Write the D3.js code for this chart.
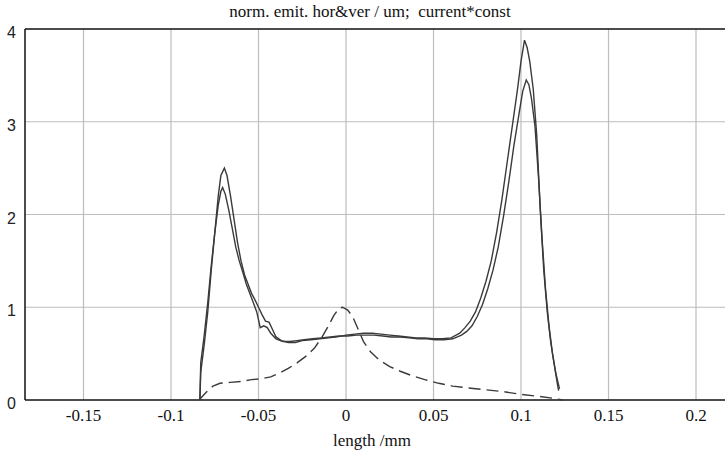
<!DOCTYPE html>
<html>
<head>
<meta charset="utf-8">
<script src="https://cdn.jsdelivr.net/npm/d3@7"></script>
</head>
<body style="margin:0">
<div id="chart"></div>
<script>
// ---------- data ----------
const xTicks = [-0.15, -0.1, -0.05, 0, 0.05, 0.1, 0.15, 0.2]
const yTicks = [0, 1, 2, 3, 4]

// horizontal emittance
const horX = [-0.0835, -0.083, -0.081, -0.079, -0.077, -0.075, -0.073, -0.0715, -0.0695, -0.068, -0.066, -0.064, -0.062, -0.060, -0.058, -0.056, -0.054, -0.052, -0.050, -0.048, -0.046, -0.044, -0.042, -0.040, -0.037, -0.033, -0.029, -0.025, -0.020, -0.015, -0.010, -0.005, 0, 0.005, 0.010, 0.015, 0.020, 0.025, 0.030, 0.035, 0.040, 0.045, 0.050, 0.055, 0.060, 0.065, 0.068, 0.071, 0.074, 0.077, 0.080, 0.083, 0.086, 0.089, 0.092, 0.095, 0.098, 0.100, 0.102, 0.1035, 0.105, 0.107, 0.109, 0.111, 0.113, 0.115, 0.117, 0.119, 0.121, 0.1215]
const horY = [0, 0.3, 0.6, 0.95, 1.4, 1.8, 2.2, 2.42, 2.5, 2.42, 2.2, 1.95, 1.7, 1.5, 1.35, 1.25, 1.15, 1.08, 1.0, 0.92, 0.85, 0.84, 0.76, 0.68, 0.64, 0.62, 0.62, 0.64, 0.65, 0.66, 0.67, 0.68, 0.70, 0.71, 0.72, 0.72, 0.71, 0.70, 0.69, 0.68, 0.67, 0.67, 0.66, 0.66, 0.67, 0.72, 0.78, 0.85, 0.95, 1.10, 1.28, 1.50, 1.80, 2.15, 2.55, 2.95, 3.35, 3.65, 3.88, 3.80, 3.65, 3.35, 2.85, 2.05, 1.40, 0.95, 0.62, 0.38, 0.15, 0.1]

// vertical emittance
const verX = [-0.0835, -0.083, -0.081, -0.079, -0.077, -0.075, -0.073, -0.0715, -0.0705, -0.069, -0.067, -0.065, -0.063, -0.061, -0.059, -0.057, -0.055, -0.053, -0.051, -0.049, -0.047, -0.045, -0.043, -0.040, -0.036, -0.032, -0.028, -0.024, -0.019, -0.014, -0.009, -0.004, 0.001, 0.006, 0.011, 0.016, 0.021, 0.026, 0.031, 0.036, 0.041, 0.046, 0.051, 0.056, 0.061, 0.066, 0.069, 0.072, 0.075, 0.078, 0.081, 0.084, 0.087, 0.090, 0.093, 0.096, 0.099, 0.101, 0.103, 0.1045, 0.106, 0.108, 0.110, 0.112, 0.114, 0.116, 0.118, 0.120, 0.122]
const verY = [0, 0.4, 0.7, 1.05, 1.45, 1.8, 2.1, 2.25, 2.29, 2.22, 2.05, 1.85, 1.65, 1.5, 1.38, 1.25, 1.15, 1.05, 0.95, 0.78, 0.80, 0.78, 0.72, 0.66, 0.63, 0.63, 0.64, 0.65, 0.66, 0.67, 0.68, 0.69, 0.69, 0.70, 0.70, 0.70, 0.69, 0.68, 0.68, 0.67, 0.66, 0.66, 0.65, 0.65, 0.66, 0.70, 0.74, 0.80, 0.90, 1.03, 1.20, 1.40, 1.65, 1.98, 2.35, 2.75, 3.10, 3.33, 3.45, 3.40, 3.25, 2.95, 2.40, 1.75, 1.20, 0.80, 0.50, 0.28, 0.12]

// current * const (dashed)
const curX = [-0.084, -0.080, -0.076, -0.072, -0.066, -0.060, -0.054, -0.048, -0.043, -0.038, -0.033, -0.028, -0.023, -0.018, -0.014, -0.010, -0.007, -0.004, -0.002, 0.001, 0.004, 0.007, 0.010, 0.014, 0.019, 0.025, 0.031, 0.038, 0.045, 0.053, 0.061, 0.070, 0.080, 0.090, 0.100, 0.110, 0.118, 0.124]
const curY = [0, 0.08, 0.15, 0.18, 0.19, 0.20, 0.22, 0.23, 0.25, 0.29, 0.34, 0.40, 0.47, 0.56, 0.67, 0.80, 0.91, 0.99, 1.00, 0.97, 0.89, 0.76, 0.63, 0.52, 0.43, 0.36, 0.31, 0.26, 0.22, 0.18, 0.15, 0.13, 0.11, 0.09, 0.06, 0.04, 0.02, 0]

// ---------- svg setup ----------
const svgWidth = 725, svgHeight = 460
const margin = {left: 25, right: 0, top: 29, bottom: 60}
const width = svgWidth - margin.left - margin.right
const height = svgHeight - margin.top - margin.bottom

const svg = d3.select('#chart')
    .append('svg')
    .attr('width', svgWidth)
    .attr('height', svgHeight)

const g = svg.append('g')
    .attr('transform', `translate(${margin.left},${margin.top})`)

// ---------- scales ----------
const x = d3.scaleLinear().domain([-0.18343, 0.21657]).range([0, width])
const y = d3.scaleLinear().domain([0, 4]).range([height, 0])

// ---------- grid ----------
g.append('g').selectAll('line')
    .data(xTicks)
    .join('line')
    .attr('x1', d => x(d)).attr('x2', d => x(d))
    .attr('y1', 0).attr('y2', height)
    .attr('stroke', '#bdbdbd').attr('stroke-width', 1.2)

g.append('g').selectAll('line')
    .data(yTicks.filter(d => d > 0 && d < 4))
    .join('line')
    .attr('x1', 0).attr('x2', width)
    .attr('y1', d => y(d)).attr('y2', d => y(d))
    .attr('stroke', '#bdbdbd').attr('stroke-width', 1.2)

// ---------- axes (labels drawn as plain text from the scales) ----------
g.append('g').selectAll('text')
    .data(xTicks)
    .join('text')
    .attr('x', d => x(d))
    .attr('y', height + 21)
    .attr('text-anchor', 'middle')
    .style('font-family', d => '"Liberation Serif"')
    .style('font-size', '17px')
    .style('fill', '#111')
    .text(d => String(d))

g.append('g').selectAll('text')
    .data(yTicks)
    .join('text')
    .attr('x', -9)
    .attr('y', d => y(d) + 9)
    .attr('text-anchor', 'end')
    .style('font-family', d => '"Liberation Sans"')
    .style('font-size', '16px')
    .style('fill', '#222')
    .text(d => String(d))

// frame
g.append('line').attr('x1', 0).attr('x2', width).attr('y1', 0).attr('y2', 0).attr('stroke', '#111').attr('stroke-width', 1.5)
g.append('line').attr('x1', 0).attr('x2', width).attr('y1', height).attr('y2', height).attr('stroke', '#111').attr('stroke-width', 1.5)
g.append('line').attr('x1', 0).attr('x2', 0).attr('y1', 0).attr('y2', height).attr('stroke', '#111').attr('stroke-width', 1.5)

// ---------- curves ----------
const line = d3.line().x(d => x(d[0])).y(d => y(d[1]))

const series = [
    {xs: horX, ys: horY, dash: null},
    {xs: verX, ys: verY, dash: null},
    {xs: curX, ys: curY, dash: '12,6'}
]

series.forEach(s => {
    g.append('path')
        .datum(d3.zip(s.xs, s.ys))
        .attr('d', line)
        .attr('fill', 'none')
        .attr('stroke', '#3a3a3a')
        .attr('stroke-width', 1.4)
        .attr('stroke-dasharray', s.dash)
})

// ---------- titles ----------
const labels = [
    {text: 'norm. emit. hor&ver / um;\u00a0\u00a0current*const', x: 370, y: 17},
    {text: 'length /mm', x: 372, y: 446}
]

svg.selectAll('text.label')
    .data(labels)
    .join('text')
    .attr('class', 'label')
    .attr('x', d => d.x).attr('y', d => d.y)
    .attr('text-anchor', 'middle')
    .style('font-family', d => '"Liberation Serif"')
    .style('font-size', '17px')
    .style('fill', '#111')
    .text(d => d.text)
</script>
</body>
</html>
